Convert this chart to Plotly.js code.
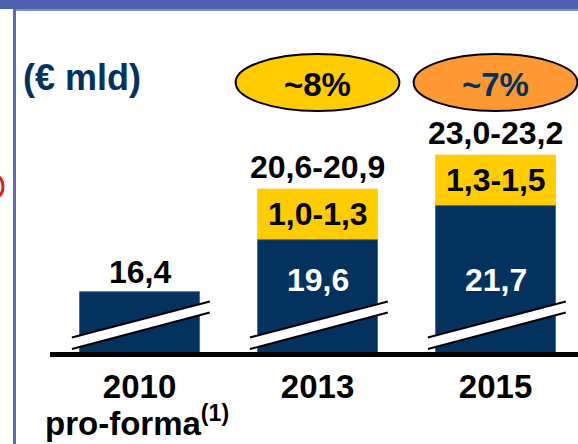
<!DOCTYPE html>
<html>
<head>
<meta charset="utf-8">
<script src="https://cdn.plot.ly/plotly-3.0.1.min.js"></script>
<style>
  html, body { margin: 0; padding: 0; background: #ffffff; }
  #chart { width: 578px; height: 444px; }
</style>
</head>
<body>
<div id="chart"></div>
<script>
// ---- data ----
const categories = [0, 1, 2];
const tickLabels = ['2010', '2013', '2015'];
const tickNote = 'pro-forma<sup>(1)</sup>';   // second line under 2010
const baseValues = [16.4, 19.6, 21.7];      // blue bars (€ mld)
const incLow = [null, 1.0, 1.3];            // yellow increment, low end
const incHigh = [null, 1.3, 1.5];           // yellow increment, high end
const totalLow = [null, 20.6, 23.0];        // total range, low end
const totalHigh = [null, 20.9, 23.2];       // total range, high end
const growthLabels = [null, '~8%', '~7%'];
const unitLabel = '(€ mld)';

// ---- styles ----
const NAVY = '#03325f';
const YELLOW = '#ffcc00';
const ORANGE = '#ff9933';
const FONT = 'Liberation Sans, Arial, Helvetica, sans-serif';
const fmt = v => v.toFixed(1).replace('.', ',');

const PLOT_L = 50, PLOT_T = 0, PLOT_B = 92, W = 578, H = 444;
const plotH = H - PLOT_T - PLOT_B;
const plotW = W - PLOT_L;
const px2py = y => (plotH + PLOT_T - y) / plotH;   // page px -> paper y
const px2px = x => (x - PLOT_L) / plotW;            // page px -> paper x

const traces = [
  {
    type: 'bar', x: categories, y: totalHigh, yaxis: 'y',
    marker: { color: YELLOW, line: { color: '#f0d060', width: 1 } },
    width: 0.674, hoverinfo: 'skip'
  },
  {
    type: 'bar', x: categories, y: baseValues, yaxis: 'y2',
    marker: { color: NAVY, line: { color: '#4a6a98', width: 1 } },
    width: 0.674, hoverinfo: 'skip'
  }
];

const annotations = [];
const shapes = [];
const numFont = { family: FONT, size: 32, color: '#000000', weight: 700 };

categories.forEach((c, i) => {
  if (incHigh[i] === null) {
    annotations.push({ x: c, y: baseValues[i], xref: 'x', yref: 'y2', yanchor: 'bottom',
      yshift: 0, text: fmt(baseValues[i]), showarrow: false, font: numFont });
  } else {
    annotations.push({ x: c, y: px2py(280), xref: 'x', yref: 'paper', yanchor: 'middle',
      text: fmt(baseValues[i]), showarrow: false, font: Object.assign({}, numFont, { color: '#ffffff' }) });
    annotations.push({ x: c, y: totalHigh[i], xref: 'x', yref: 'y', yanchor: 'middle', yshift: -25,
      text: fmt(incLow[i]) + '-' + fmt(incHigh[i]), showarrow: false, font: numFont });
    annotations.push({ x: c, y: totalHigh[i], xref: 'x', yref: 'y', yanchor: 'middle', yshift: 22,
      text: fmt(totalLow[i]) + '-' + fmt(totalHigh[i]), showarrow: false, font: numFont });
    // growth ellipse
    shapes.push({ type: 'circle', xref: 'x', yref: 'paper', x0: c - 0.46, x1: c + 0.46,
      y0: px2py(111), y1: px2py(54), fillcolor: i === 1 ? YELLOW : ORANGE,
      line: { color: '#000000', width: 2 }, layer: 'above' });
    annotations.push({ x: c, y: px2py(84), xref: 'x', yref: 'paper', yanchor: 'middle',
      text: growthLabels[i], showarrow: false,
      font: Object.assign({}, numFont, { size: 33, color: i === 1 ? '#000000' : NAVY }) });
  }
  // axis-break marks across each bar
  const xa = c - 0.38, xb = c + 0.395;
  const yul = px2py(337.5), yur = px2py(301.5), yll = px2py(349), ylr = px2py(312.5);
  shapes.push({ type: 'path', xref: 'x', yref: 'paper',
    path: `M ${xa},${yul} L ${xb},${yur} L ${xb},${ylr} L ${xa},${yll} Z`,
    fillcolor: '#ffffff', line: { width: 0 }, layer: 'above' });
  shapes.push({ type: 'line', xref: 'x', yref: 'paper', x0: xa, y0: yul, x1: xb, y1: yur,
    line: { color: '#000000', width: 2 }, layer: 'above' });
  shapes.push({ type: 'line', xref: 'x', yref: 'paper', x0: xa, y0: yll, x1: xb, y1: ylr,
    line: { color: '#000000', width: 2 }, layer: 'above' });
});

// second line of the 2010 label
annotations.push({ x: categories[0], y: px2py(421), xref: 'x', yref: 'paper', yanchor: 'middle',
  xshift: -3, text: tickNote, showarrow: false,
  font: { family: FONT, size: 33, color: '#000000', weight: 700 } });

// unit label
annotations.push({ x: px2px(21), y: px2py(77), xref: 'paper', yref: 'paper', xanchor: 'left',
  yanchor: 'middle', text: unitLabel, showarrow: false,
  font: { family: FONT, size: 36, color: NAVY, weight: 700 } });

// slide frame decorations
shapes.push({ type: 'rect', xref: 'paper', yref: 'paper', x0: px2px(0), x1: px2px(W),
  y0: px2py(9), y1: px2py(0), fillcolor: '#4f5faf', line: { width: 0 } });
shapes.push({ type: 'rect', xref: 'paper', yref: 'paper', x0: px2px(13), x1: px2px(W),
  y0: px2py(11), y1: px2py(9), fillcolor: '#8090d0', line: { width: 0 } });
shapes.push({ type: 'rect', xref: 'paper', yref: 'paper', x0: px2px(13), x1: px2px(16),
  y0: px2py(H), y1: px2py(9), fillcolor: '#5a6bc0', line: { width: 0 } });
shapes.push({ type: 'circle', xref: 'paper', yref: 'paper', x0: px2px(-10), x1: px2px(3),
  y0: px2py(197), y1: px2py(176), fillcolor: 'rgba(0,0,0,0)', line: { color: '#e02020', width: 3 } });

const layout = {
  width: W, height: H,
  margin: { l: PLOT_L, r: 0, t: PLOT_T, b: PLOT_B, pad: 0 },
  paper_bgcolor: '#ffffff', plot_bgcolor: '#ffffff',
  showlegend: false,
  barmode: 'overlay',
  xaxis: {
    range: [-0.503, -0.503 + plotW / 178], tickvals: categories, ticktext: tickLabels,
    showgrid: false, zeroline: false, showline: true, linecolor: '#000000', linewidth: 5,
    ticks: '', ticklabelstandoff: 1,
    tickfont: { family: FONT, size: 33, color: '#000000', weight: 700 }, fixedrange: true
  },
  yaxis: { range: [9.87, 33.69], visible: false, fixedrange: true },
  yaxis2: { range: [12.69, 34.35], overlaying: 'y', visible: false, fixedrange: true },
  annotations: annotations,
  shapes: shapes
};

Plotly.newPlot('chart', traces, layout, { displayModeBar: false, staticPlot: true });
</script>
</body>
</html>
